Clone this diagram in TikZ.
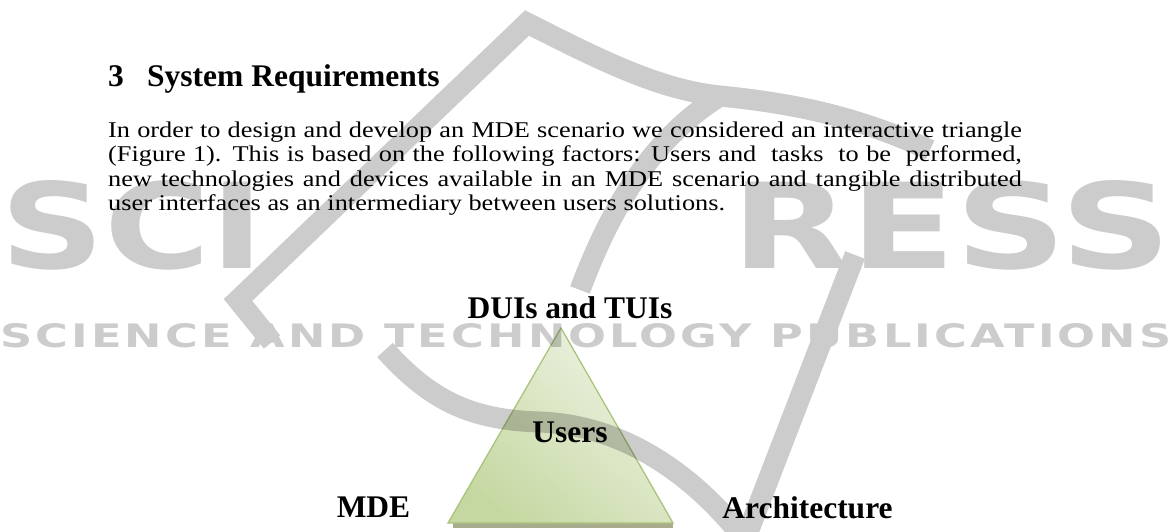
\documentclass[tikz,border=0pt]{standalone}
\usepackage{fontspec}
\setmainfont{Liberation Serif}
\setsansfont{DejaVu Sans}
\newfontfamily\bandfont[LetterSpace=7]{DejaVu Sans}
\usepackage{graphicx}
\usetikzlibrary{positioning}
\definecolor{cTriTop}{HTML}{EEF3E4}
\definecolor{cTriLow}{HTML}{C6D8A2}
\definecolor{cTriEdge}{HTML}{A9C47C}
\definecolor{cTriShadow}{HTML}{A8AC8C}

\begin{document}
\begin{tikzpicture}[
    x=1pt, y=-1pt,
    body/.style={inner sep=0pt, anchor=base west, font=\fontsize{22.5}{26}\selectfont},
    lbl/.style={inner sep=0pt, anchor=base, font=\fontsize{31.5}{36}\selectfont\bfseries},
    wmline/.style={draw=black, line width=21pt},
    wmtext/.style={inner sep=0pt, anchor=north west, text=black}
]
\useasboundingbox[fill=white] (0,0) rectangle (1171,531);

% triangle and its drop shadow
\fill[cTriShadow] (453,523) rectangle (673,527.5);
\coordinate (apex) at (561,328);
\coordinate (baseL) at (448,523);
\coordinate (baseR) at (673,523);
\path[draw=cTriEdge, line width=1.3pt, top color=cTriTop, bottom color=cTriLow, shading angle=-40]
  (apex) -- (baseR) -- (baseL) -- cycle;

% publisher watermark
\begin{scope}[transparency group, opacity=0.2]
  \node[wmtext, font=\sffamily\bfseries] (wmLeft) at (0,180) {\resizebox{264pt}{88pt}{SCI}};
  \node[wmtext, font=\sffamily\bfseries] (wmRight) at (731,180) {\resizebox{440pt}{88pt}{RESS}};
  \node[wmtext, font=\bandfont\bfseries] (wmBand) at (0,323) {\resizebox{1171pt}{24pt}{SCIENCE AND TECHNOLOGY PUBLICATIONS}};
  \draw[wmline, line join=miter] (272,342) -- (238,300) -- (527,23) .. controls (600,60) and (660,90) .. (720,96)
    .. controls (800,104) and (860,118) .. (930,150);
  \draw[wmline] (720,96) .. controls (650,140) and (610,210) .. (580,290);
  \draw[wmline] (385,350) .. controls (430,400) and (470,420) .. (540,422)
    .. controls (620,425) and (690,470) .. (745,540) -- (855,255);
\end{scope}

% section heading
\node[lbl, anchor=base west] (secnum) at (108,86) {3};
\node[lbl, anchor=base west] (sectitle) at (147,86) {System Requirements};

% paragraph, full lines stretched to the text width
\foreach \txt [count=\i] in {
  {In order to design and develop an MDE scenario we considered an interactive triangle},
  {(Figure 1). This is based on the following factors: Users and\ \ tasks\ \ to be\ \ performed,},
  {new technologies and devices available in an MDE scenario and tangible distributed}}
  \node[body] (ln\i) at (108,112.4+24.6*\i) {\scalebox{1.17}[1]{\makebox[781pt][s]{\txt}}};
\node[body] (ln4) at (108,210.8) {\scalebox{1.17}[1]{user interfaces as an intermediary between users solutions.}};

% corner labels
\node[lbl] (topLbl) at (570,318) {DUIs and TUIs};
\node[lbl] (users) at (570,442) {Users};
\node[lbl] (mde) at (373.5,517) {MDE};
\node[lbl] (arch) at (807.5,518) {Architecture};
\end{tikzpicture}
\end{document}
